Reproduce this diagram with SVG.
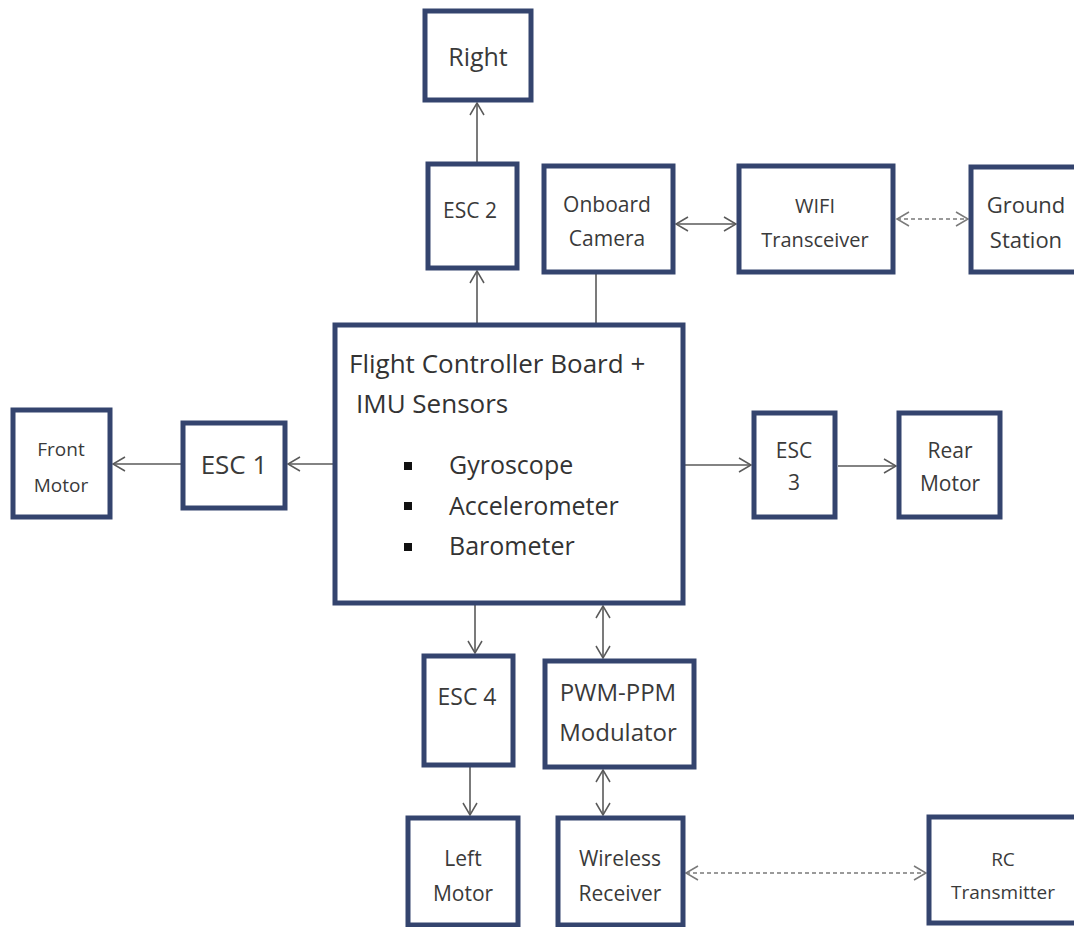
<svg xmlns="http://www.w3.org/2000/svg" width="1074" height="927" viewBox="0 0 1074 927">
<defs>
<style>
.box{fill:#ffffff;stroke:#34446e;stroke-width:5}
.ln{fill:none;stroke:#5a5a5a;stroke-width:1.6}
.dash{fill:none;stroke:#7a7a7a;stroke-width:1.6;stroke-dasharray:4 3}
.t{font-family:"Open Sans","Liberation Sans",sans-serif;fill:#3a3a3a;text-anchor:middle}
.tl{font-family:"Open Sans","Liberation Sans",sans-serif;fill:#333333}
</style>
<marker id="ah" viewBox="0 0 16 16" refX="14" refY="8" markerWidth="16" markerHeight="16" markerUnits="userSpaceOnUse" orient="auto-start-reverse">
<path d="M2,1 L14,8 L2,15" fill="none" stroke="#5a5a5a" stroke-width="1.5"/>
</marker>
<marker id="ahd" viewBox="0 0 16 16" refX="14" refY="8" markerWidth="16" markerHeight="16" markerUnits="userSpaceOnUse" orient="auto-start-reverse">
<path d="M2,1 L14,8 L2,15" fill="none" stroke="#7a7a7a" stroke-width="1.5"/>
</marker>
</defs>
<rect width="1074" height="927" fill="#ffffff"/>

<g id="connectors">
<line class="ln" x1="477" y1="163" x2="477" y2="103" marker-end="url(#ah)"/>
<line class="ln" x1="477" y1="323" x2="477" y2="271" marker-end="url(#ah)"/>
<line class="ln" x1="596" y1="274" x2="596" y2="323"/>
<line class="ln" x1="676" y1="224" x2="736" y2="224" marker-start="url(#ah)" marker-end="url(#ah)"/>
<line class="dash" x1="897" y1="219" x2="968" y2="219" marker-start="url(#ahd)" marker-end="url(#ahd)"/>
<line class="ln" x1="333" y1="464" x2="288" y2="464" marker-end="url(#ah)"/>
<line class="ln" x1="182" y1="464" x2="113" y2="464" marker-end="url(#ah)"/>
<line class="ln" x1="685" y1="465" x2="751" y2="465" marker-end="url(#ah)"/>
<line class="ln" x1="838" y1="466" x2="896" y2="466" marker-end="url(#ah)"/>
<line class="ln" x1="475" y1="605" x2="475" y2="653" marker-end="url(#ah)"/>
<line class="ln" x1="603" y1="606" x2="603" y2="658" marker-start="url(#ah)" marker-end="url(#ah)"/>
<line class="ln" x1="470" y1="767" x2="470" y2="815" marker-end="url(#ah)"/>
<line class="ln" x1="603" y1="770" x2="603" y2="815" marker-start="url(#ah)" marker-end="url(#ah)"/>
<line class="dash" x1="686" y1="873" x2="926" y2="873" marker-start="url(#ahd)" marker-end="url(#ahd)"/>
</g>

<g id="right">
<rect class="box" x="425" y="11" width="106" height="89"/>
<text class="t" x="478" y="66" font-size="25">Right</text>
</g>
<g id="esc2">
<rect class="box" x="428" y="164" width="89" height="104"/>
<text class="t" x="470" y="218" font-size="21">ESC 2</text>
</g>
<g id="camera">
<rect class="box" x="544" y="166" width="129" height="106"/>
<text class="t" x="607" y="212" font-size="21">Onboard</text>
<text class="t" x="607" y="246" font-size="21">Camera</text>
</g>
<g id="wifi">
<rect class="box" x="739" y="166" width="154" height="106"/>
<text class="t" x="815" y="213" font-size="20">WIFI</text>
<text class="t" x="815" y="247" font-size="20">Transceiver</text>
</g>
<g id="ground">
<rect class="box" x="971" y="167" width="110" height="105"/>
<text class="t" x="1026" y="213" font-size="22">Ground</text>
<text class="t" x="1026" y="248" font-size="22">Station</text>
</g>
<g id="front">
<rect class="box" x="13" y="410" width="97" height="107"/>
<text class="t" x="61" y="456" font-size="19">Front</text>
<text class="t" x="61" y="492" font-size="19">Motor</text>
</g>
<g id="esc1">
<rect class="box" x="183" y="423" width="102" height="85"/>
<text class="t" x="234" y="474" font-size="26">ESC 1</text>
</g>
<g id="fc">
<rect class="box" x="335" y="325" width="348" height="278"/>
<text class="tl" x="349" y="373" font-size="26">Flight Controller Board +</text>
<text class="tl" x="356" y="413" font-size="26">IMU Sensors</text>
<rect x="404" y="462" width="8" height="8" fill="#111"/>
<rect x="404" y="502" width="8" height="8" fill="#111"/>
<rect x="404" y="543" width="8" height="8" fill="#111"/>
<text class="tl" x="449" y="474" font-size="25">Gyroscope</text>
<text class="tl" x="449" y="515" font-size="25">Accelerometer</text>
<text class="tl" x="449" y="555" font-size="25">Barometer</text>
</g>
<g id="esc3">
<rect class="box" x="754" y="413" width="81" height="104"/>
<text class="t" x="794" y="458" font-size="21">ESC</text>
<text class="t" x="794" y="490" font-size="21">3</text>
</g>
<g id="rear">
<rect class="box" x="899" y="413" width="101" height="104"/>
<text class="t" x="950" y="458" font-size="21">Rear</text>
<text class="t" x="950" y="491" font-size="21">Motor</text>
</g>
<g id="esc4">
<rect class="box" x="424" y="656" width="89" height="109"/>
<text class="t" x="467" y="705" font-size="23">ESC 4</text>
</g>
<g id="pwm">
<rect class="box" x="545" y="661" width="149" height="106"/>
<text class="t" x="618" y="701" font-size="24">PWM-PPM</text>
<text class="t" x="618" y="741" font-size="24">Modulator</text>
</g>
<g id="left">
<rect class="box" x="408" y="818" width="110" height="107"/>
<text class="t" x="463" y="866" font-size="21">Left</text>
<text class="t" x="463" y="901" font-size="21">Motor</text>
</g>
<g id="wireless">
<rect class="box" x="558" y="818" width="125" height="107"/>
<text class="t" x="620" y="866" font-size="21">Wireless</text>
<text class="t" x="620" y="901" font-size="21">Receiver</text>
</g>
<g id="rc">
<rect class="box" x="929" y="817" width="150" height="106"/>
<text class="t" x="1003" y="866" font-size="19">RC</text>
<text class="t" x="1003" y="899" font-size="19">Transmitter</text>
</g>
</svg>
